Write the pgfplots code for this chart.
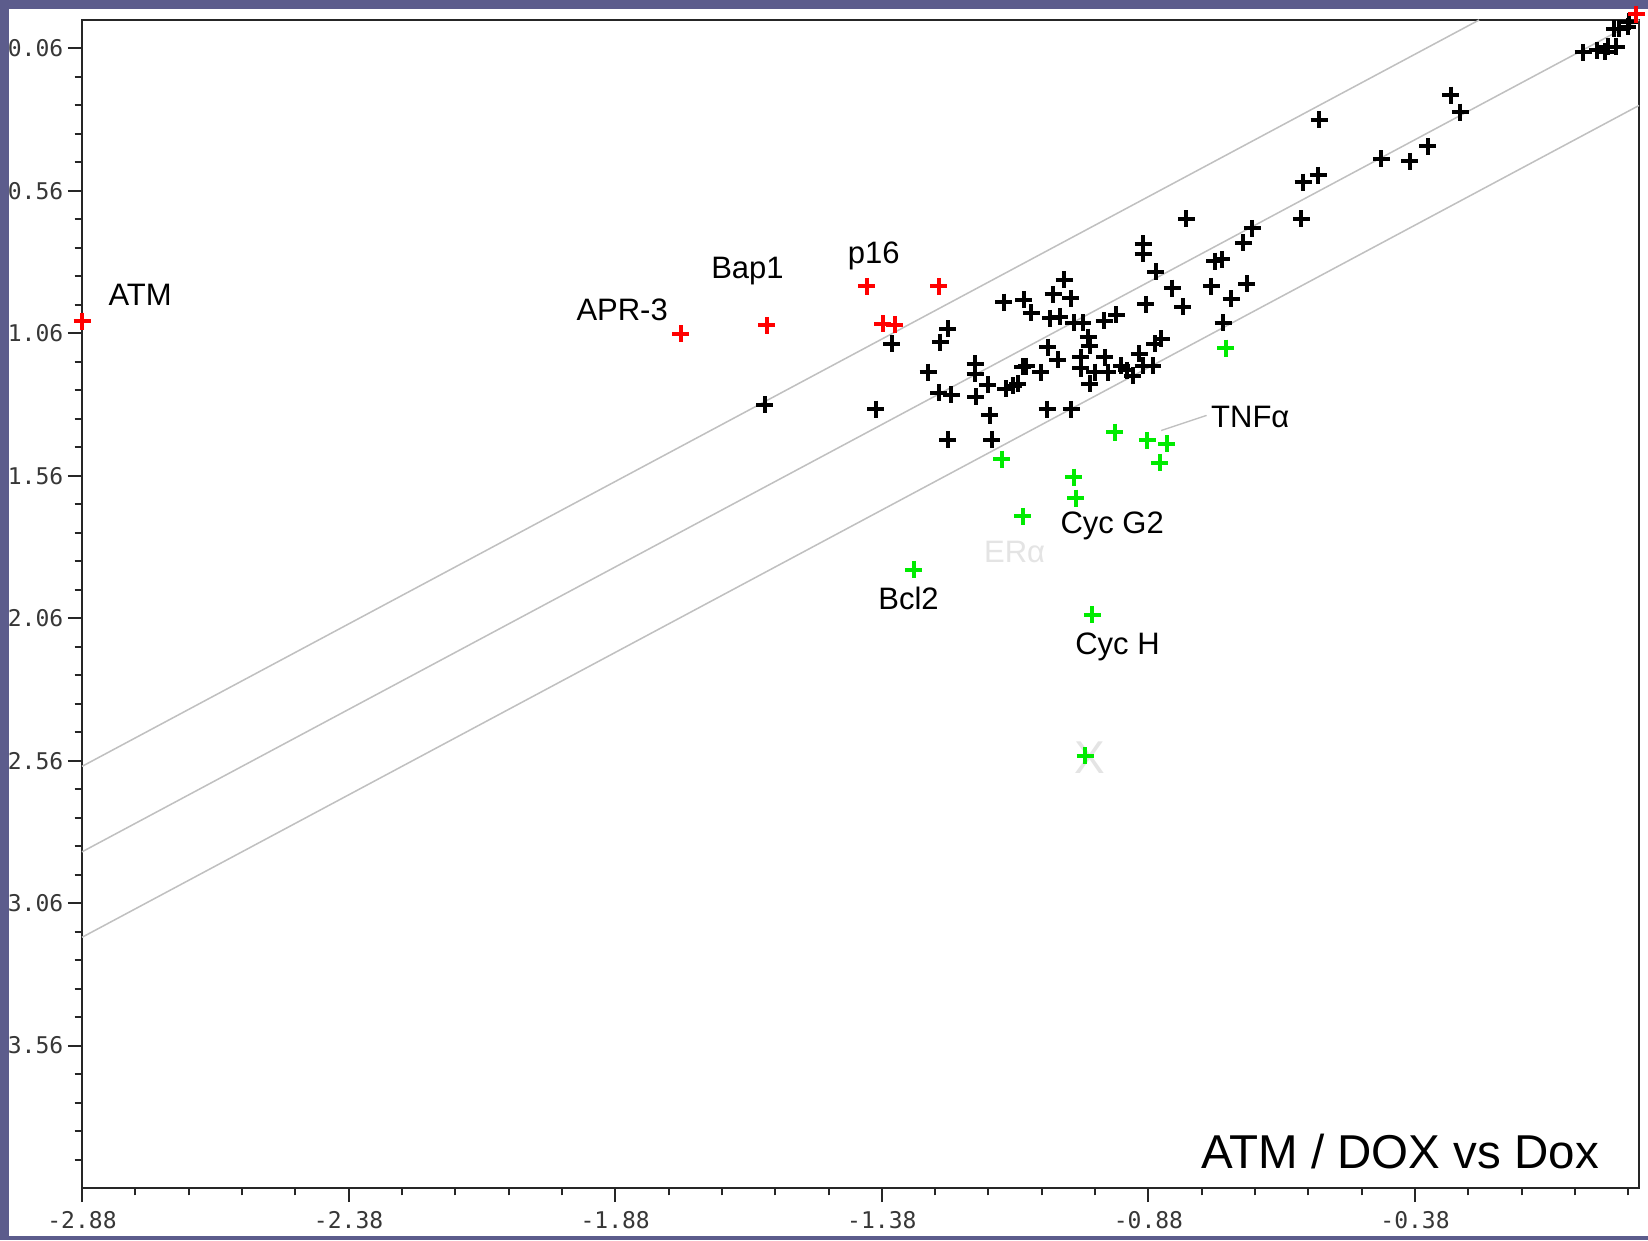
\documentclass[border=0pt]{standalone}
\usepackage{fontspec}
\setmainfont{Liberation Sans}
\newfontfamily\tickfont{DejaVu Sans Mono}
\usepackage{pgfplots}
\pgfplotsset{compat=1.18}
\definecolor{bgpurple}{RGB}{92,92,140}
\definecolor{refline}{RGB}{192,192,192}
\definecolor{mygreen}{RGB}{0,235,0}
\definecolor{myred}{RGB}{255,0,0}
\definecolor{tickgray}{RGB}{55,55,55}
\definecolor{faint}{RGB}{228,228,228}
\newcommand{\lab}{\fontsize{9.3}{11}\selectfont}
\begin{document}
\begin{tikzpicture}
\useasboundingbox (0,0) rectangle (494.4pt,372pt);
\fill[bgpurple] (0,0) rectangle (494.4pt,372pt);
\fill[white] (2.7pt,1.3pt) rectangle (496pt,369.3pt);
\begin{axis}[
  at={(24.6pt,15.6pt)}, anchor=south west,
  scale only axis, width=467.1pt, height=350.4pt,
  xmin=-2.88, xmax=0.04, ymin=-0.04, ymax=4.06, y dir=reverse,
  clip=false,
  axis line style={line width=0.65pt, color=black!85},
  tick style={line width=0.6pt, color=black!85},
  tick align=outside,
  xtick pos=left, xticklabel pos=left,
  ytick pos=left, yticklabel pos=left,
  major tick length=4.2pt, minor tick length=2.2pt,
  xtick={-2.88,-2.38,-1.88,-1.38,-0.88,-0.38},
  xticklabels={-2.88,-2.38,-1.88,-1.38,-0.88,-0.38},
  minor xtick={-2.78,-2.68,-2.58,-2.48,-2.28,-2.18,-2.08,-1.98,-1.78,-1.68,-1.58,-1.48,-1.28,-1.18,-1.08,-0.98,-0.78,-0.68,-0.58,-0.48,-0.28,-0.18,-0.08,0.02},
  ytick={0.06,0.56,1.06,1.56,2.06,2.56,3.06,3.56},
  yticklabels={0.06,0.56,1.06,1.56,2.06,2.56,3.06,3.56},
  minor ytick={0.16,0.26,0.36,0.46,0.66,0.76,0.86,0.96,1.16,1.26,1.36,1.46,1.66,1.76,1.86,1.96,2.16,2.26,2.36,2.46,2.66,2.76,2.86,2.96,3.16,3.26,3.36,3.46,3.66,3.76,3.86,3.96},
  ticklabel style={font=\tickfont\fontsize{6.9}{8}\selectfont, text=tickgray},
  yticklabel style={xshift=2.1pt},
  xticklabel style={yshift=0.6pt},
]
% reference lines
\addplot[refline, line width=0.45pt] coordinates {(-2.88,2.58) (-0.26,-0.04)};
\addplot[refline, line width=0.45pt] coordinates {(-2.88,2.88) (0.04,-0.04)};
\addplot[refline, line width=0.45pt] coordinates {(-2.88,3.18) (0.04,0.26)};
% black genes
\addplot[only marks, mark=+, mark size=2.55pt, mark options={line width=1.2pt, black}] coordinates {
(-1.600,1.310) (-1.391,1.326) (-1.361,1.097) (-1.256,1.043) (-1.270,1.091)
(-1.293,1.196) (-1.273,1.268) (-1.250,1.275) (-1.256,1.434) (-1.205,1.166)
(-1.205,1.201) (-1.204,1.282) (-1.181,1.240) (-1.178,1.347) (-1.174,1.434)
(-1.151,0.950) (-1.114,0.942) (-1.100,0.988) (-1.148,1.255) (-1.134,1.243)
(-1.125,1.237) (-1.116,1.178) (-1.109,1.176) (-1.082,1.197) (-1.069,1.108)
(-1.050,1.153) (-1.070,1.326) (-1.025,1.327) (-1.038,0.872) (-1.059,0.923)
(-1.026,0.937) (-1.064,1.007) (-1.046,1.002) (-1.020,1.022) (-1.003,1.022)
(-0.963,1.016) (-0.940,0.995) (-0.993,1.073) (-0.990,1.104) (-1.007,1.144)
(-1.007,1.182) (-0.981,1.196) (-0.990,1.237) (-0.962,1.144) (-0.956,1.196)
(-0.931,1.173) (-0.921,1.190) (-0.909,1.208) (-0.897,1.132) (-0.890,1.173)
(-0.872,1.173) (-0.868,1.097) (-0.856,1.079) (-0.885,0.958) (-0.890,0.745)
(-0.890,0.780) (-0.866,0.843) (-0.809,0.657) (-0.835,0.901) (-0.816,0.967)
(-0.762,0.895) (-0.756,0.806) (-0.743,0.800) (-0.725,0.938) (-0.696,0.886)
(-0.702,0.742) (-0.685,0.691) (-0.740,1.023) (-0.593,0.657) (-0.590,0.529)
(-0.562,0.505) (-0.560,0.310) (-0.443,0.447) (-0.390,0.456) (-0.356,0.404)
(-0.313,0.224) (-0.295,0.283) (-0.065,0.074) (-0.038,0.066) (-0.023,0.072)
(-0.019,0.054) (-0.003,0.054) (-0.006,-0.010) (0.003,-0.010) (0.022,-0.033)
(0.019,-0.016)
};
% green genes
\addplot[only marks, mark=+, mark size=2.55pt, mark options={line width=1.2pt, mygreen}] coordinates {
(-0.735,1.112) (-0.943,1.407) (-0.882,1.436) (-0.846,1.448) (-0.859,1.515)
(-1.155,1.501) (-1.020,1.565) (-1.016,1.638) (-1.116,1.702) (-1.320,1.890)
(-0.985,2.048) (-0.999,2.543)
};
% red genes
\addplot[only marks, mark=+, mark size=2.55pt, mark options={line width=1.2pt, myred}] coordinates {
(-2.880,1.017) (-1.757,1.061) (-1.596,1.032) (-1.408,0.895) (-1.273,0.895)
(-1.378,1.026) (-1.356,1.029) (0.035,-0.060)
};
% labels
\node[anchor=base, font=\lab] at (axis cs:-2.771,0.962) {ATM};
\node[anchor=base, font=\lab] at (axis cs:-1.867,1.015) {APR-3};
\node[anchor=base, font=\lab] at (axis cs:-1.632,0.868) {Bap1};
\node[anchor=base, font=\lab] at (axis cs:-1.395,0.815) {p16};
\node[anchor=base, font=\lab] at (axis cs:-0.689,1.390) {TNFα};
\node[anchor=base, font=\lab] at (axis cs:-0.948,1.762) {Cyc G2};
\node[anchor=base, font=\lab, text=faint] at (axis cs:-1.131,1.864) {ERα};
\node[anchor=base, font=\lab] at (axis cs:-1.330,2.028) {Bcl2};
\node[anchor=base, font=\lab] at (axis cs:-0.938,2.186) {Cyc H};
\node[font=\fontsize{13.8}{16}\selectfont, text=faint] at (axis cs:-0.990,2.549) {X};
\draw[refline, line width=0.4pt] (axis cs:-0.771,1.348) -- (axis cs:-0.856,1.401);
\node[anchor=base east, inner sep=0pt, font=\fontsize{14.25}{17}\selectfont] at (axis cs:-0.034,3.991) {ATM / DOX vs Dox};
\end{axis}
\end{tikzpicture}
\end{document}
